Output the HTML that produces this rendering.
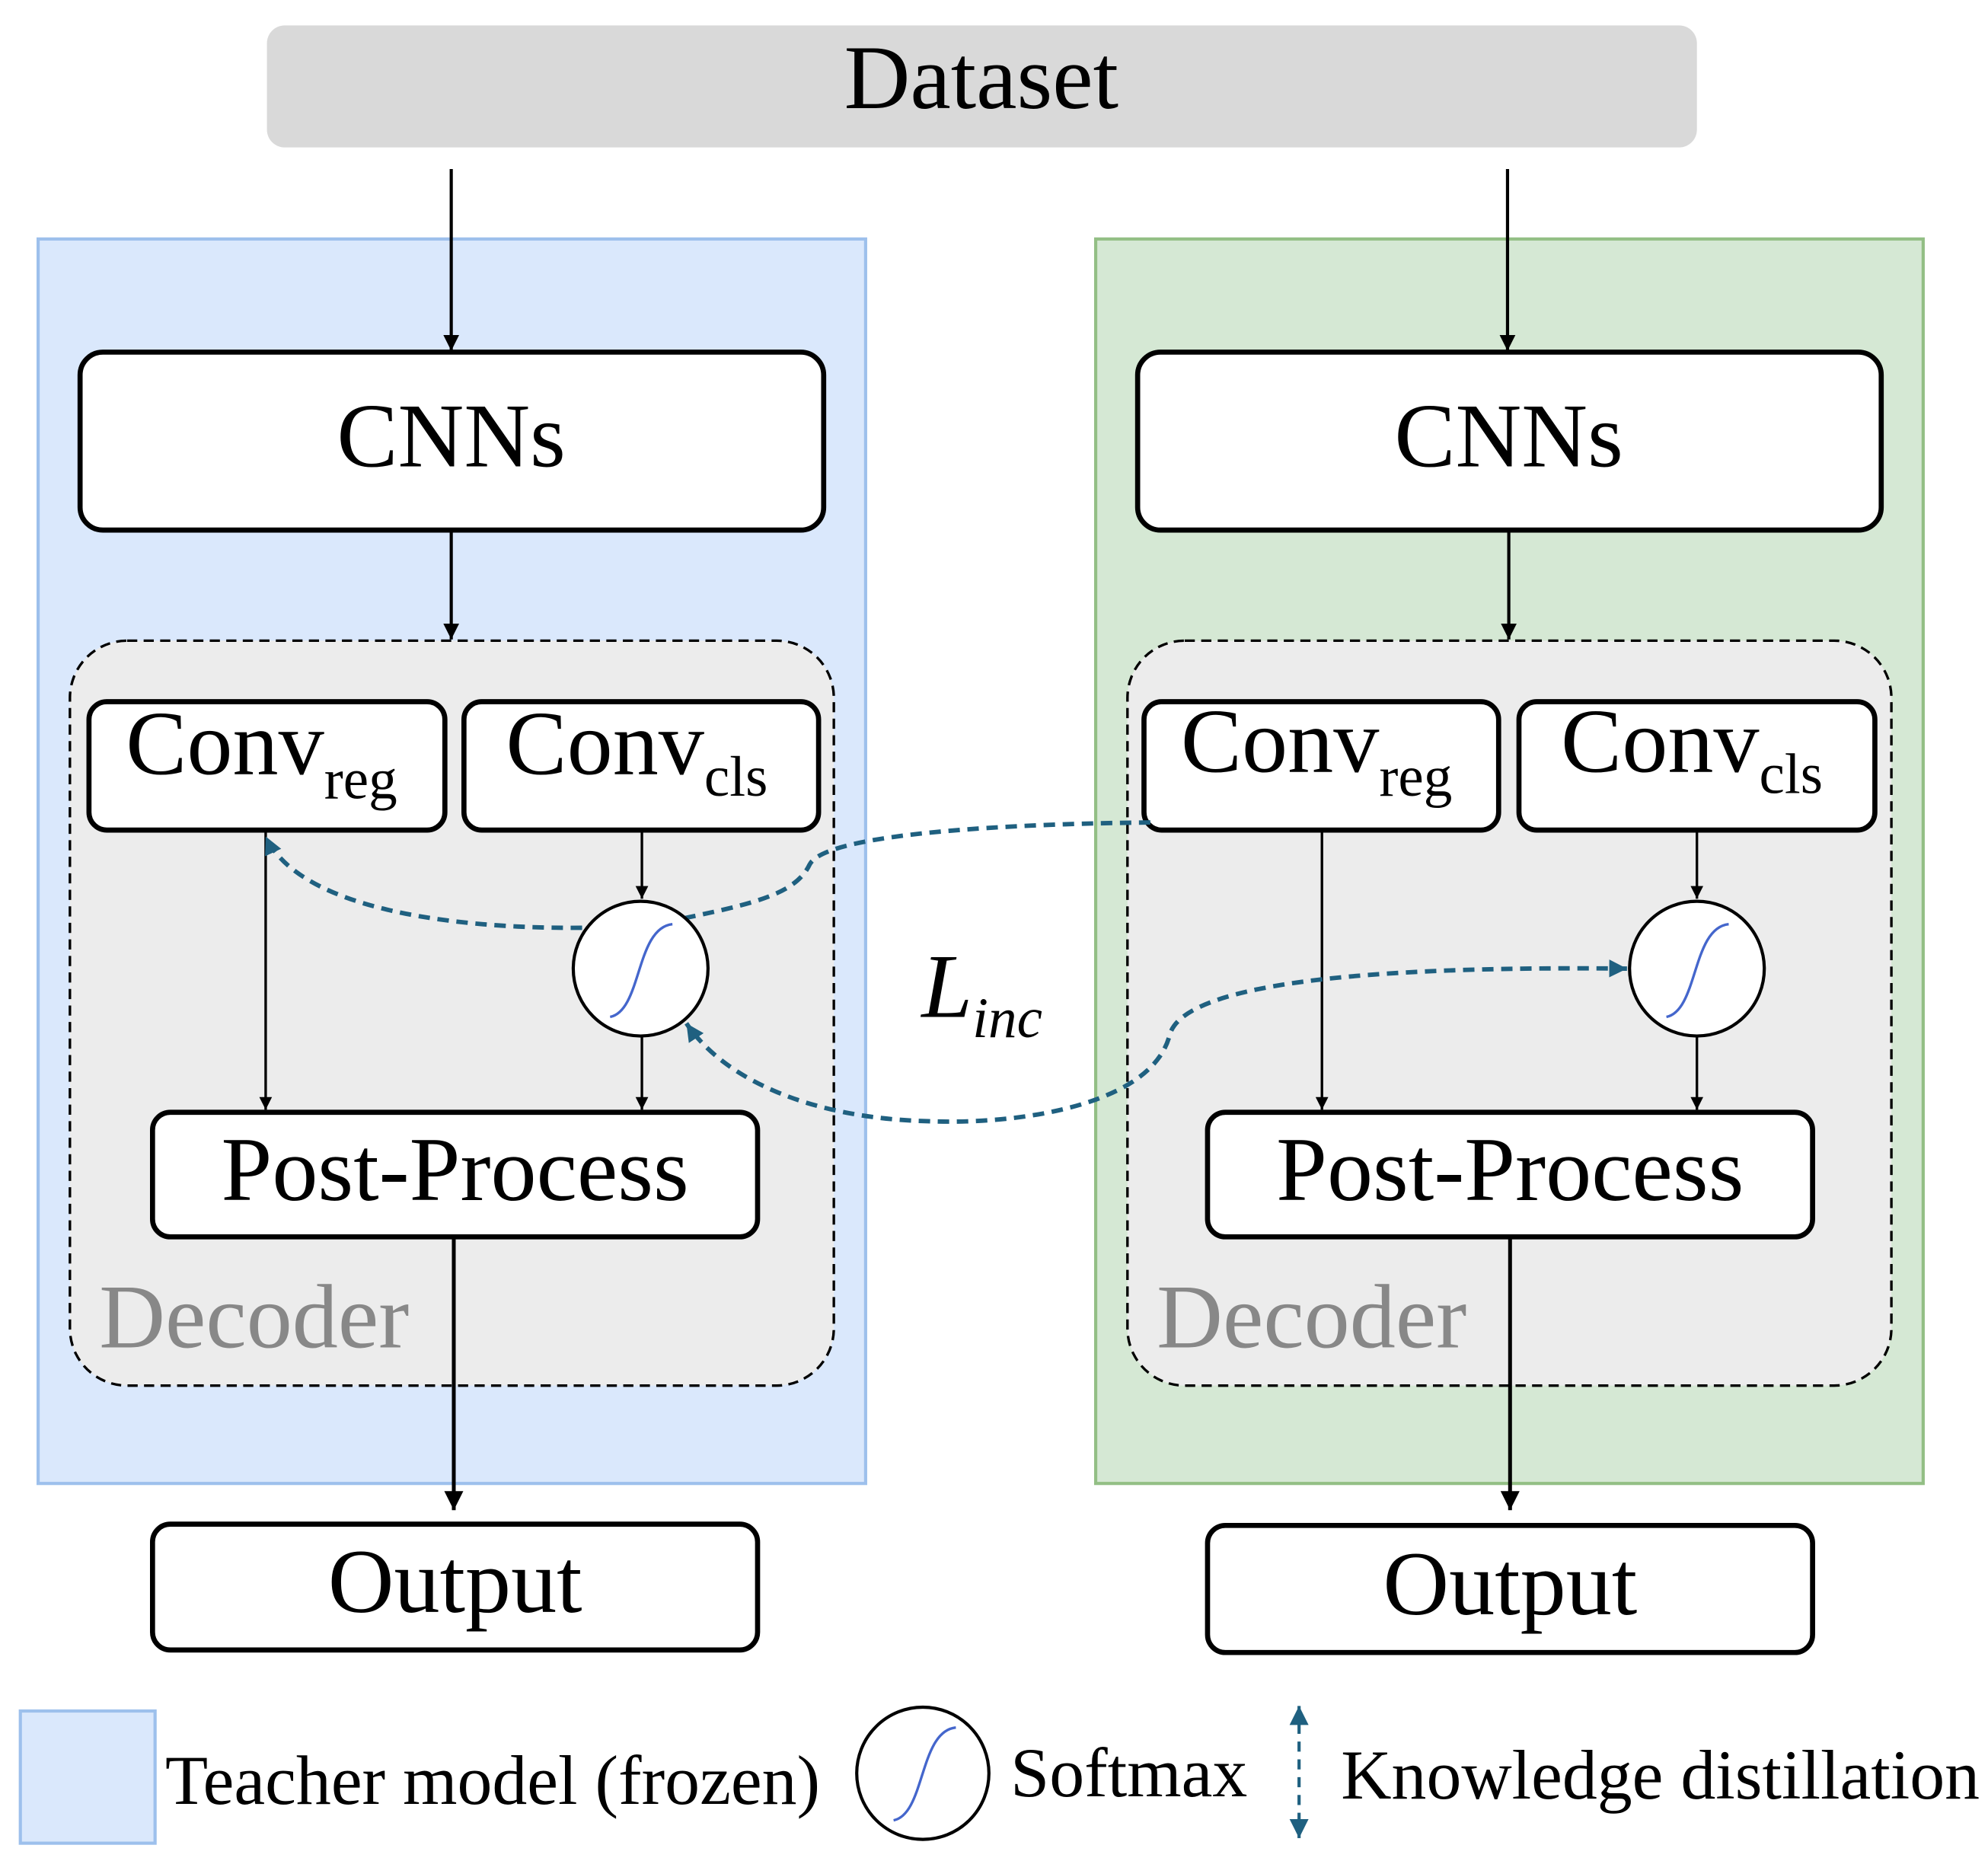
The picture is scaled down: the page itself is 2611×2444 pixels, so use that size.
<!DOCTYPE html>
<html><head><style>html,body{margin:0;padding:0;background:#fff}svg{display:block}text{font-family:"Liberation Serif",serif}</style></head>
<body>
<svg width="2611" height="2444" viewBox="0 0 1564 1464" preserveAspectRatio="none" xmlns="http://www.w3.org/2000/svg">
<defs>
<marker id="a" viewBox="0 0 10 10" refX="10" refY="5" markerWidth="5" markerHeight="5" orient="auto"><path d="M0,0L10,5L0,10z" fill="#000"/></marker>
<marker id="b" viewBox="0 0 10 10" refX="10" refY="5" markerWidth="4" markerHeight="4" orient="auto-start-reverse"><path d="M0,0L10,5L0,10z" fill="#1f6080"/></marker>
<marker id="c" viewBox="0 0 10 10" refX="10" refY="5" markerWidth="6" markerHeight="6" orient="auto-start-reverse"><path d="M0,0L10,5L0,10z" fill="#1f6080"/></marker>
</defs>
<rect x="210" y="20" width="1125" height="96" rx="14" fill="#d9d9d9"/>
<text x="772" y="85" font-size="72" text-anchor="middle">Dataset</text>
<rect x="30" y="188" width="651" height="979" fill="#dae8fc" stroke="#9dc0ec" stroke-width="2.5"/>
<rect x="862" y="188" width="651" height="979" fill="#d5e8d4" stroke="#93bf85" stroke-width="2.5"/>
<g stroke="#000" stroke-width="2.5" marker-end="url(#a)">
<line x1="355" y1="133" x2="355" y2="276"/><line x1="1186" y1="133" x2="1186" y2="276"/>
<line x1="355" y1="417" x2="355" y2="503"/><line x1="1187" y1="417" x2="1187" y2="503"/>
</g>
<g fill="#fff" stroke="#000" stroke-width="4">
<rect x="63" y="277" width="585" height="140" rx="18"/><rect x="895" y="277" width="585" height="140" rx="18"/>
</g>
<text x="355" y="367" font-size="72" text-anchor="middle">CNNs</text>
<text x="1187" y="367" font-size="72" text-anchor="middle">CNNs</text>
<g fill="#ececec" stroke="#000" stroke-width="2" stroke-dasharray="8,5">
<rect x="55" y="504" width="601" height="586" rx="45"/><rect x="887" y="504" width="601" height="586" rx="45"/>
</g>
<text x="78" y="1060" font-size="72" fill="#888">Decoder</text>
<text x="910" y="1060" font-size="72" fill="#888">Decoder</text>
<g stroke="#000" stroke-width="2" marker-end="url(#a)">
<line x1="505" y1="653" x2="505" y2="707"/><line x1="505" y1="815" x2="505" y2="873"/><line x1="209" y1="653" x2="209" y2="873"/>
<line x1="1335" y1="653" x2="1335" y2="707"/><line x1="1335" y1="815" x2="1335" y2="873"/><line x1="1040" y1="653" x2="1040" y2="873"/>
</g>
<g fill="#fff" stroke="#000" stroke-width="4">
<rect x="70" y="552" width="280" height="101" rx="14"/><rect x="365" y="552" width="279" height="101" rx="14"/>
<rect x="900" y="552" width="279" height="101" rx="14"/><rect x="1195" y="552" width="280" height="101" rx="14"/>
<rect x="120" y="875" width="476" height="98" rx="14"/><rect x="950" y="875" width="476" height="98" rx="14"/>
<rect x="120" y="1199" width="476" height="99" rx="14"/><rect x="950" y="1200" width="476" height="100" rx="14"/>
</g>
<g font-size="72">
<text x="99" y="609">Conv<tspan font-size="45" dy="19">reg</tspan></text>
<text x="398" y="609">Conv<tspan font-size="45" dy="17">cls</tspan></text>
<text x="929" y="607">Conv<tspan font-size="45" dy="19">reg</tspan></text>
<text x="1228" y="607">Conv<tspan font-size="45" dy="17">cls</tspan></text>
<text x="358" y="944" text-anchor="middle">Post-Process</text>
<text x="1188" y="944" text-anchor="middle">Post-Process</text>
<text x="358" y="1268" text-anchor="middle">Output</text>
<text x="1188" y="1270" text-anchor="middle">Output</text>
</g>
<text x="725" y="800" font-size="72" font-style="italic">L<tspan font-size="45" dy="16">inc</tspan></text>
<g stroke="#000" stroke-width="3" marker-end="url(#a)">
<line x1="357" y1="973" x2="357" y2="1188"/><line x1="1188" y1="973" x2="1188" y2="1188"/>
</g>
<g fill="none" stroke="#1f6080" stroke-width="3.5" stroke-dasharray="9,6">
<path d="M905,647 C800,648 650,655 637,680 C625,705 590,712 510,728 C400,735 240,725 209,658" marker-end="url(#b)"/>
<path d="M1280,762 C1100,760 930,770 920,815 C905,870 800,885 730,882 C640,880 570,850 540,805" marker-start="url(#b)" marker-end="url(#b)"/>
</g>
<g fill="#fff" stroke="#000" stroke-width="2.5">
<circle cx="504" cy="762" r="53"/><circle cx="1335" cy="762" r="53"/><circle cx="726" cy="1395" r="52"/>
</g>
<g fill="none" stroke="#4466cc" stroke-width="2">
<path d="M480,800 C505,795 500,730 529,727"/><path d="M1311,800 C1336,795 1331,730 1360,727"/><path d="M703,1432 C728,1427 723,1362 752,1359"/>
</g>
<rect x="16" y="1346" width="106" height="104" fill="#dae8fc" stroke="#9dc0ec" stroke-width="2.5"/>
<text x="130" y="1419" font-size="55">Teacher model (frozen)</text>
<text x="795" y="1413" font-size="55">Softmax</text>
<line x1="1022" y1="1342" x2="1022" y2="1446" stroke="#1f6080" stroke-width="2.5" stroke-dasharray="8,6" marker-start="url(#c)" marker-end="url(#c)"/>
<text x="1055" y="1415" font-size="55">Knowledge distillation</text>
</svg>
</body></html>
